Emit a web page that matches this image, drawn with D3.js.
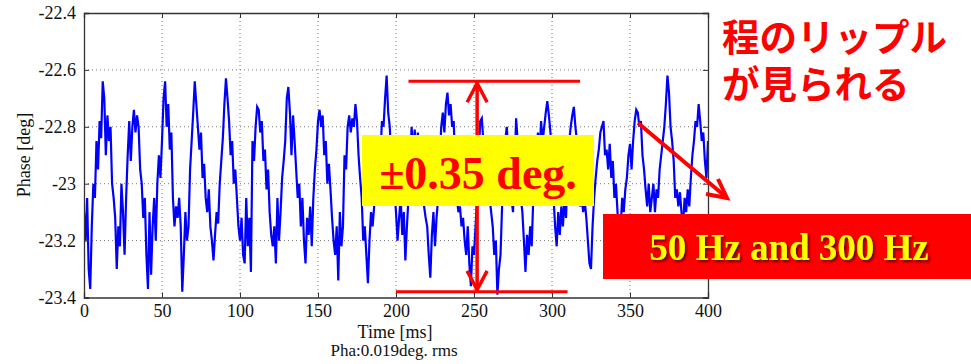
<!DOCTYPE html>
<html>
<head>
<meta charset="utf-8">
<script src="https://cdn.jsdelivr.net/npm/d3@7"></script>
<style>
html,body{margin:0;padding:0;background:#fff;}
svg{display:block;}
</style>
</head>
<body>
<svg id="chart" width="971" height="364"></svg>
<script>
// ---- data ----
const sampleStepMs = 1;
const phaseDeg = [
-23.10,-23.20,-23.05,-23.30,-23.37,-23.15,-23.00,-23.05,-22.85,-22.95,
-22.78,-22.84,-22.64,-22.70,-22.90,-22.76,-22.85,-22.80,-23.00,-23.05,
-23.12,-23.30,-23.15,-23.22,-23.00,-23.10,-23.25,-23.05,-22.90,-22.78,
-22.92,-22.80,-22.74,-22.82,-22.76,-22.80,-22.95,-23.00,-23.12,-23.05,
-23.25,-23.37,-23.10,-23.32,-23.15,-23.05,-23.20,-23.00,-22.90,-22.98,
-22.85,-22.70,-22.64,-22.80,-22.72,-22.88,-22.82,-23.05,-23.15,-23.08,
-23.12,-23.05,-23.15,-23.38,-23.25,-23.10,-23.20,-23.15,-22.95,-22.85,
-22.75,-22.64,-22.72,-22.80,-22.88,-22.82,-22.98,-22.93,-23.05,-23.10,
-23.02,-23.15,-23.20,-23.27,-23.18,-23.10,-23.14,-23.00,-22.92,-22.84,
-22.72,-22.63,-22.70,-22.78,-22.90,-22.85,-23.00,-22.95,-23.05,-23.15,
-23.20,-23.12,-23.25,-23.28,-23.05,-23.22,-23.12,-23.31,-22.85,-22.92,
-22.80,-22.73,-22.74,-22.82,-22.78,-22.92,-22.88,-23.02,-22.95,-23.10,
-23.18,-23.22,-23.15,-23.28,-23.05,-23.20,-23.10,-22.98,-22.92,-22.85,
-22.70,-22.66,-22.75,-22.90,-22.76,-22.85,-22.95,-23.05,-23.00,-23.15,
-23.05,-23.20,-23.28,-23.12,-23.18,-23.08,-23.22,-23.05,-22.95,-22.88,
-22.78,-22.74,-22.80,-22.76,-22.90,-22.85,-23.00,-22.93,-23.02,-23.12,
-23.20,-23.25,-23.15,-23.34,-23.10,-23.22,-23.15,-22.90,-22.95,-22.80,
-22.76,-22.82,-22.77,-22.80,-22.72,-22.78,-22.90,-22.98,-23.05,-23.20,
-23.15,-23.25,-23.35,-23.20,-23.10,-23.15,-23.08,-23.05,-22.98,-23.02,
-22.90,-22.78,-22.80,-22.70,-22.62,-22.75,-22.80,-22.92,-22.88,-23.02,
-23.10,-23.20,-23.12,-23.05,-23.18,-23.10,-23.27,-23.15,-23.05,-22.95,
-22.80,-22.90,-22.81,-22.92,-22.82,-22.95,-22.83,-23.00,-23.08,-23.12,
-23.15,-23.25,-23.33,-23.18,-23.10,-23.22,-23.12,-23.05,-22.92,-22.80,
-22.75,-22.82,-22.72,-22.68,-22.76,-22.72,-22.80,-22.78,-22.95,-23.05,
-23.10,-23.08,-23.15,-23.12,-23.20,-23.25,-23.15,-23.28,-23.36,-23.22,
-23.25,-23.15,-23.05,-22.90,-22.78,-22.77,-22.85,-22.95,-23.00,-22.92,
-23.05,-23.10,-23.15,-23.25,-23.20,-23.39,-23.30,-23.25,-23.08,-22.95,
-22.85,-22.80,-22.88,-22.95,-23.05,-23.10,-22.95,-22.77,-22.85,-22.95,
-23.05,-23.10,-23.20,-23.31,-23.18,-23.25,-23.15,-23.22,-23.05,-22.90,
-22.88,-22.82,-22.90,-22.78,-22.85,-22.80,-22.75,-22.71,-22.76,-22.82,
-22.90,-23.05,-23.15,-23.22,-23.10,-23.18,-23.08,-23.15,-23.05,-23.12,
-22.95,-22.85,-22.80,-22.76,-22.73,-22.80,-22.85,-23.02,-23.08,-23.05,
-23.10,-23.06,-23.12,-23.20,-23.28,-23.30,-23.15,-23.05,-22.98,-22.92,
-22.88,-22.82,-22.80,-22.78,-22.90,-22.88,-22.95,-22.86,-22.98,-22.92,
-23.05,-23.00,-23.10,-23.20,-23.15,-23.05,-23.10,-23.02,-22.98,-22.90,
-22.86,-22.95,-22.85,-22.78,-22.74,-22.75,-22.80,-22.78,-22.90,-22.95,
-23.02,-23.08,-23.00,-23.10,-23.05,-23.00,-23.10,-23.02,-23.05,-22.95,
-22.90,-22.85,-22.80,-22.72,-22.62,-22.68,-22.80,-22.85,-22.92,-23.05,
-23.02,-23.08,-23.03,-23.10,-23.15,-23.05,-23.10,-23.02,-23.08,-22.98,
-22.90,-22.85,-22.78,-22.80,-22.72,-22.78,-22.85,-22.82,-22.92,-22.98,
-22.85
];
const xTicks = [0, 50, 100, 150, 200, 250, 300, 350, 400];
const yTicks = [-22.4, -22.6, -22.8, -23.0, -23.2, -23.4];
const yTickLabels = ["-22.4", "-22.6", "-22.8", "-23", "-23.2", "-23.4"];
const xLabel = "Time [ms]";
const yLabel = "Phase [deg]";
const rmsLabel = "Pha:0.019deg. rms";
const rangeLabel = "±0.35 deg.";
const rangeTopV = -22.64;
const rangeBottomV = -23.38;
const rangeCenterT = 252;
const rangeLineStartT = [208, 200];
const rangeLineEndT = [318, 310];
const freqLabel = "50 Hz and 300 Hz";
const noteLines = ["程のリップル", "が見られる"];

// ---- layout ----
const svg = d3.select("#chart");
const L = 84, R = 708, T = 13, B = 297.5;
const x = d3.scaleLinear().domain([0, 400]).range([L, R]);
const y = d3.scaleLinear().domain([-23.4, -22.4]).range([B, T]);
const serif = "'Liberation Serif','Times New Roman',serif";

// grid
const grid = svg.append("g");
grid.selectAll(".gx").data(xTicks.slice(1, -1)).join("line")
  .attr("x1", d => x(d)).attr("x2", d => x(d)).attr("y1", T).attr("y2", B)
  .attr("stroke", "#777").attr("stroke-width", 1).attr("stroke-dasharray", "1,3");
grid.selectAll(".gy").data(yTicks.slice(1, -1)).join("line")
  .attr("y1", d => y(d)).attr("y2", d => y(d)).attr("x1", L).attr("x2", R)
  .attr("stroke", "#777").attr("stroke-width", 1).attr("stroke-dasharray", "1,3");

// line
svg.append("clipPath").attr("id", "clip").append("rect")
  .attr("x", L).attr("y", T).attr("width", R - L).attr("height", B - T);
const line = d3.line().x((d, i) => x(i * sampleStepMs)).y(d => y(d));
svg.append("path").datum(phaseDeg).attr("clip-path", "url(#clip)")
  .attr("d", line).attr("fill", "none").attr("stroke", "#0000ff")
  .attr("stroke-width", 2.2).attr("stroke-linejoin", "miter");

// axes (MATLAB style: ticks inside on all sides)
const tickLen = -5;
const axB = svg.append("g").attr("transform", `translate(0,${B})`)
  .call(d3.axisBottom(x).tickValues(xTicks).tickSize(tickLen).tickPadding(7).tickFormat(d3.format("d")));
const axT = svg.append("g").attr("transform", `translate(0,${T})`)
  .call(d3.axisTop(x).tickValues(xTicks).tickSize(tickLen).tickFormat(""));
const axLft = svg.append("g").attr("transform", `translate(${L},0)`)
  .call(d3.axisLeft(y).tickValues(yTicks).tickSize(tickLen).tickPadding(8).tickFormat((d, i) => yTickLabels[i]));
const axRt = svg.append("g").attr("transform", `translate(${R},0)`)
  .call(d3.axisRight(y).tickValues(yTicks).tickSize(tickLen).tickFormat(""));
[axB, axT, axLft, axRt].forEach(a => {
  a.select(".domain").attr("stroke", "#333").attr("stroke-width", 1.3);
  a.selectAll(".tick line").attr("stroke", "#333");
  a.selectAll("text").attr("font-family", serif).attr("font-size", 18).attr("fill", "#111");
});

// labels
svg.append("text").attr("x", 395).attr("y", 338).attr("text-anchor", "middle")
  .attr("font-family", serif).attr("font-size", 18).attr("fill", "#111").text(xLabel);
svg.append("text").attr("x", 394).attr("y", 356).attr("text-anchor", "middle")
  .attr("font-family", serif).attr("font-size", 17).attr("fill", "#111").text(rmsLabel);
svg.append("text").attr("transform", "translate(30,155) rotate(-90)").attr("text-anchor", "middle")
  .attr("font-family", serif).attr("font-size", 18).attr("fill", "#111").text(yLabel);

// ---- annotations ----
const red = "#ff0000";
svg.append("line").attr("x1", x(rangeLineStartT[0])).attr("x2", x(rangeLineEndT[0]))
  .attr("y1", y(rangeTopV)).attr("y2", y(rangeTopV)).attr("stroke", red).attr("stroke-width", 3);
svg.append("line").attr("x1", x(rangeLineStartT[1])).attr("x2", x(rangeLineEndT[1]))
  .attr("y1", y(rangeBottomV)).attr("y2", y(rangeBottomV)).attr("stroke", red).attr("stroke-width", 3);
const ax = x(rangeCenterT);
const yTop = y(rangeTopV), yBot = y(rangeBottomV);
svg.append("line").attr("x1", ax).attr("x2", ax).attr("y1", yTop + 1).attr("y2", yBot - 1)
  .attr("stroke", red).attr("stroke-width", 3.5);
svg.append("path").attr("d", `M${ax - 10},${yTop + 21} L${ax},${yTop + 2} L${ax + 10},${yTop + 21}`)
  .attr("fill", "none").attr("stroke", red).attr("stroke-width", 3.5);
svg.append("path").attr("d", `M${ax - 10},${yBot - 21} L${ax},${yBot - 2} L${ax + 10},${yBot - 21}`)
  .attr("fill", "none").attr("stroke", red).attr("stroke-width", 3.5);

// yellow box
svg.append("rect").attr("x", 362).attr("y", 135).attr("width", 232).attr("height", 71).attr("fill", "#ffff00");
svg.append("text").attr("x", 478).attr("y", 189).attr("text-anchor", "middle")
  .attr("font-family", serif).attr("font-weight", "bold").attr("font-size", 46)
  .attr("fill", red).text(rangeLabel);

// diagonal arrow
svg.append("line").attr("x1", 638).attr("y1", 123).attr("x2", 726).attr("y2", 197)
  .attr("stroke", red).attr("stroke-width", 4);
svg.append("path").attr("d", "M706,194 L727,198 L718,179").attr("fill", "none")
  .attr("stroke", red).attr("stroke-width", 4);

// red box with shadowed yellow text
const defs = svg.append("defs");
defs.append("filter").attr("id", "sh").attr("x", "-10%").attr("y", "-30%").attr("width", "130%").attr("height", "170%")
  .append("feDropShadow").attr("dx", 2).attr("dy", 2).attr("stdDeviation", 1)
  .attr("flood-color", "#500000").attr("flood-opacity", 0.8);
svg.append("rect").attr("x", 603).attr("y", 214).attr("width", 368).attr("height", 65).attr("fill", red);
svg.append("text").attr("x", 789).attr("y", 260).attr("text-anchor", "middle")
  .attr("font-family", serif).attr("font-weight", "bold").attr("font-size", 37)
  .attr("fill", "#ffff00").attr("filter", "url(#sh)").text(freqLabel);

// Japanese note (one text block, two lines)
const note = svg.append("text").attr("x", 722).attr("y", 51)
  .attr("font-family", "'Noto Sans CJK JP',sans-serif").attr("font-weight", "bold")
  .attr("font-size", 37.5).attr("fill", red);
note.selectAll("tspan").data(noteLines).join("tspan")
  .attr("x", 722).attr("dy", (d, i) => i === 0 ? 0 : 47).text(d => d);
</script>
</body>
</html>
